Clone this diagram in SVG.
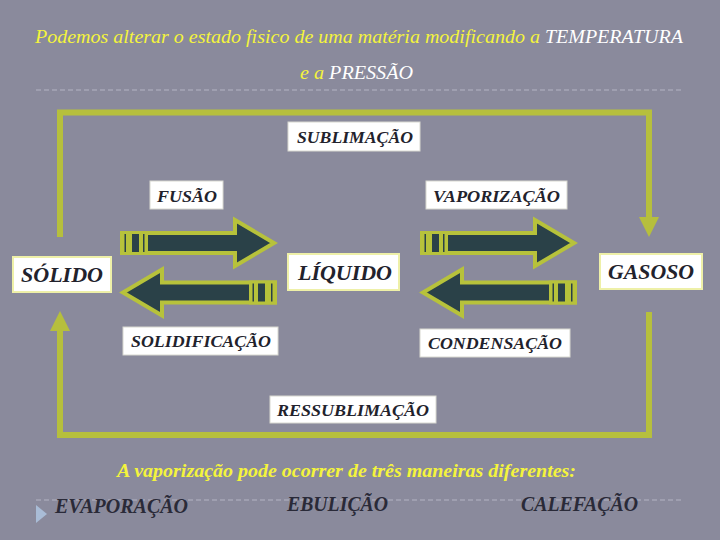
<svg xmlns="http://www.w3.org/2000/svg" xmlns:xlink="http://www.w3.org/1999/xlink" width="720" height="540" viewBox="0 0 720 540">
<style>
.bg{fill:#8a8a9c}
.loop{fill:none;stroke:#b6bf3d;stroke-width:6;stroke-linejoin:miter}
.dash{stroke:#b4b4c4;stroke-width:1;stroke-dasharray:5 3}
.box{fill:#ffffff;stroke:#d8d8d0;stroke-width:1}
.boxy{fill:#ffffff;stroke:#eef0a8;stroke-width:2}
.lbl{font-family:"Liberation Serif",Tinos,"Times New Roman",Times,"Noto Serif","DejaVu Serif",FreeSerif,serif;font-style:italic;font-weight:bold;fill:#22222c}
.ttl{font-family:"Liberation Serif",Tinos,"Times New Roman",Times,"Noto Serif","DejaVu Serif",FreeSerif,serif;font-style:italic;font-size:18px}
.yel{fill:#f4f43c}
.wht{fill:#ffffff}
.foot{font-family:"Liberation Serif",Tinos,"Times New Roman",Times,"Noto Serif","DejaVu Serif",FreeSerif,serif;font-style:italic;font-weight:bold;font-size:19px;fill:#f4f43c}
.way{font-family:"Liberation Serif",Tinos,"Times New Roman",Times,"Noto Serif","DejaVu Serif",FreeSerif,serif;font-style:italic;font-weight:bold;font-size:20px;fill:#2a2a38}
</style>
<defs>
<marker id="tri" viewBox="0 0 20 20" refX="1" refY="10" markerWidth="20" markerHeight="20" markerUnits="userSpaceOnUse" orient="auto">
<path d="M0,0 L20,10 L0,20 z" fill="#b6bf3d"/>
</marker>
<g id="barrow">
<polygon points="2,-10 115,-10 115,-23 154,0 115,23 115,10 2,10" fill="#2a4148" stroke="#b7c23b" stroke-width="4" stroke-linejoin="miter"/>
<rect x="0" y="-12" width="28" height="24" fill="#b7c23b"/>
<rect x="4.5" y="-9" width="1.5" height="18" fill="#2a4148"/>
<rect x="12" y="-9" width="7" height="18" fill="#2a4148"/>
<rect x="23" y="-9" width="1.5" height="18" fill="#2a4148"/>
</g>
</defs>
<rect class="bg" x="0" y="0" width="720" height="540"/>

<g id="title">
<text class="ttl" x="35" y="43" textLength="648" lengthAdjust="spacingAndGlyphs"><tspan class="yel">Podemos alterar o estado fisico de uma matéria modificando a </tspan><tspan class="wht">TEMPERATURA</tspan></text>
<text class="ttl" x="300" y="79" textLength="113" lengthAdjust="spacingAndGlyphs"><tspan class="yel">e a </tspan><tspan class="wht">PRESSÃO</tspan></text>
<line class="dash" x1="36" y1="90" x2="684" y2="90"/>
</g>

<g id="connectors">
<path class="loop" d="M60,237 V112.5 H649 V218" marker-end="url(#tri)"/>
<path class="loop" d="M649,312 V435 H60 V330" marker-end="url(#tri)"/>
<use xlink:href="#barrow" transform="translate(120,243)"/>
<use xlink:href="#barrow" transform="translate(420,243)"/>
<use xlink:href="#barrow" transform="translate(277,292.5) scale(-1,1)"/>
<use xlink:href="#barrow" transform="translate(577,292.5) scale(-1,1)"/>
</g>

<g id="sublimacao">
<rect class="box" x="288" y="122" width="132" height="29"/>
<text class="lbl" x="297" y="143" font-size="17" textLength="116" lengthAdjust="spacingAndGlyphs">SUBLIMAÇÃO</text>
</g>
<g id="fusao">
<rect class="box" x="150" y="181" width="73" height="28"/>
<text class="lbl" x="157" y="202" font-size="17" textLength="60" lengthAdjust="spacingAndGlyphs">FUSÃO</text>
</g>
<g id="vaporizacao">
<rect class="box" x="426" y="181" width="141" height="28"/>
<text class="lbl" x="433" y="202" font-size="17" textLength="127" lengthAdjust="spacingAndGlyphs">VAPORIZAÇÃO</text>
</g>
<g id="solido">
<rect class="boxy" x="13" y="257" width="98" height="35"/>
<text class="lbl" x="21" y="282" font-size="22" textLength="82" lengthAdjust="spacingAndGlyphs">SÓLIDO</text>
</g>
<g id="liquido">
<rect class="boxy" x="288" y="254" width="111" height="36"/>
<text class="lbl" x="298" y="280" font-size="22" textLength="94" lengthAdjust="spacingAndGlyphs">LÍQUIDO</text>
</g>
<g id="gasoso">
<rect class="boxy" x="600" y="254" width="102" height="35"/>
<text class="lbl" x="608" y="279" font-size="22" textLength="86" lengthAdjust="spacingAndGlyphs">GASOSO</text>
</g>
<g id="solidificacao">
<rect class="box" x="123" y="327" width="155" height="28"/>
<text class="lbl" x="131" y="347" font-size="17" textLength="140" lengthAdjust="spacingAndGlyphs">SOLIDIFICAÇÃO</text>
</g>
<g id="condensacao">
<rect class="box" x="420" y="329" width="150" height="28"/>
<text class="lbl" x="428" y="349" font-size="17" textLength="134" lengthAdjust="spacingAndGlyphs">CONDENSAÇÃO</text>
</g>
<g id="ressublimacao">
<rect class="box" x="270" y="396" width="166" height="27"/>
<text class="lbl" x="277" y="416" font-size="17" textLength="152" lengthAdjust="spacingAndGlyphs">RESSUBLIMAÇÃO</text>
</g>

<g id="footer">
<text class="foot" x="117" y="477" textLength="459" lengthAdjust="spacingAndGlyphs">A vaporização pode ocorrer de três maneiras diferentes:</text>
<line class="dash" x1="36" y1="500" x2="684" y2="500"/>
<polygon points="36,505 36,523 47,514" fill="#a9bcd6"/>
<text class="way" x="55" y="513" textLength="133" lengthAdjust="spacingAndGlyphs">EVAPORAÇÃO</text>
<text class="way" x="287" y="511" textLength="101" lengthAdjust="spacingAndGlyphs">EBULIÇÃO</text>
<text class="way" x="521" y="511" textLength="117" lengthAdjust="spacingAndGlyphs">CALEFAÇÃO</text>
</g>
</svg>
